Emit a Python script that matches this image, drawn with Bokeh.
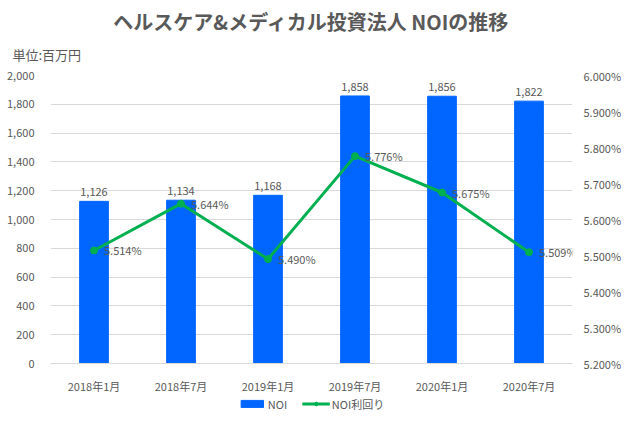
from bokeh.plotting import figure
from bokeh.layouts import column
from bokeh.models import (ColumnDataSource, Range1d, LinearAxis, FactorRange, Title,
                          Legend, LegendItem, LabelSet, NumeralTickFormatter, PrintfTickFormatter)
from bokeh.core.properties import value
from bokeh.embed import file_html
from bokeh.resources import INLINE

categories = ["2018年1月", "2018年7月", "2019年1月", "2019年7月", "2020年1月", "2020年7月"]
noi = [1126, 1134, 1168, 1858, 1856, 1822]
noi_yield = [5.514, 5.644, 5.490, 5.776, 5.675, 5.509]

FONT = "Noto Sans CJK JP"
TXT = "#595959"
GRID = "#d9d9d9"
BAR = "#0066ff"
LINE = "#00b050"

src = ColumnDataSource(dict(
    cat=categories, noi=noi, noi_lbl=[f"{v:,}" for v in noi],
    yld=noi_yield, yld_lbl=[f"{v:.3f}%" for v in noi_yield]))

p = figure(width=624, height=396, x_range=FactorRange(*categories), y_range=Range1d(0, 2000),
           output_backend="svg", toolbar_location=None, title=None,
           min_border_left=50, min_border_right=44, min_border_top=75, min_border_bottom=33)
p.extra_y_ranges = {"pct": Range1d(5.2, 6.0)}
p.outline_line_color = None
p.xgrid.grid_line_color = None
p.ygrid.grid_line_color = GRID
p.ygrid.grid_line_width = 1

bars = p.vbar(x="cat", top="noi", width=0.33, source=src, color=BAR)
line = p.line(x="cat", y="yld", source=src, y_range_name="pct", color=LINE, line_width=3)
pts = p.scatter(x="cat", y="yld", source=src, y_range_name="pct", color=LINE, size=7)

p.add_layout(LabelSet(x="cat", y="noi", text="noi_lbl", source=src, text_align="center",
                      text_baseline="bottom", y_offset=5, text_font_size="11px",
                      text_color=TXT, text_font=value(FONT)))
p.add_layout(LabelSet(x="cat", y="yld", text="yld_lbl", source=src, y_range_name="pct",
                      text_align="left", text_baseline="middle", x_offset=10,
                      text_font_size="11px", text_color=TXT, text_font=value(FONT)))

yl = p.yaxis[0]
yl.ticker.desired_num_ticks = 10
yl.formatter = NumeralTickFormatter(format="0,0")
yr = LinearAxis(y_range_name="pct", formatter=PrintfTickFormatter(format="%.3f%%"))
yr.ticker.desired_num_ticks = 8
p.add_layout(yr, "right")
for ax in (yl, yr):
    ax.axis_line_color = None
    ax.major_tick_line_color = None
    ax.minor_tick_line_color = None
    ax.major_label_text_font = FONT
    ax.major_label_text_font_size = "11px"
    ax.major_label_text_color = TXT
yl.major_label_standoff = 10
yr.major_label_standoff = 5

xa = p.xaxis[0]
xa.axis_line_color = GRID
xa.major_tick_line_color = None
xa.minor_tick_line_color = None
xa.major_label_text_font = FONT
xa.major_label_text_font_size = "11px"
xa.major_label_text_color = TXT
xa.major_label_standoff = 8

p.add_layout(Title(text="単位:百万円", align="left", text_font_size="13px", text_font_style="normal",
                   text_color=TXT, text_font=FONT, offset=-38, standoff=23), "above")
p.add_layout(Title(text="ヘルスケア&メディカル投資法人 NOIの推移", align="center", text_font_size="20px",
                   text_font_style="bold", text_color=TXT, text_font=FONT, offset=27, standoff=-9), "above")

# legend strip below the chart; its renderers' factors are not in its own x range,
# so only their legend glyphs appear
lg = figure(width=624, height=15, output_backend="svg", toolbar_location=None, title=None,
            x_range=FactorRange("legend"), y_range=Range1d(-30000, -29000),
            x_axis_type=None, y_axis_type=None, min_border=0)
lg.extra_y_ranges = {"pct": Range1d(-30000, -29000)}
lg.outline_line_color = None
lg.xgrid.grid_line_color = None
lg.ygrid.grid_line_color = None
lb = lg.vbar(x="cat", top="noi", width=0.33, source=src, color=BAR)
ll = lg.line(x="cat", y="yld", source=src, y_range_name="pct", color=LINE, line_width=3)
ls = lg.scatter(x="cat", y="yld", source=src, y_range_name="pct", color=LINE, size=7)
legend = Legend(items=[LegendItem(label="NOI", renderers=[lb]),
                       LegendItem(label="NOI利回り", renderers=[ll, ls])],
                orientation="horizontal", location="center", border_line_color=None,
                background_fill_alpha=0, label_text_font=FONT, label_text_font_size="11px",
                label_text_color=TXT, glyph_width=28, glyph_height=9, spacing=14,
                padding=0, margin=0, label_standoff=2, label_height=14)
lg.add_layout(legend)

open("out.html", "w").write(file_html(column(p, lg, spacing=0), INLINE))
